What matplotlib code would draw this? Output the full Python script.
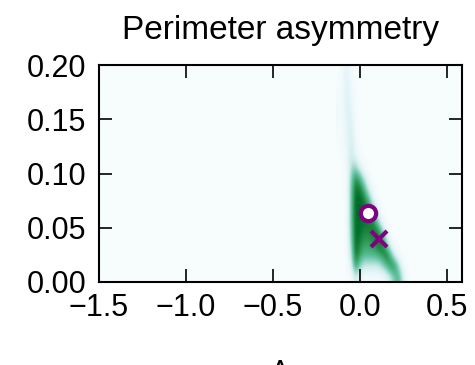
import numpy as np
import matplotlib
matplotlib.use("Agg")
import matplotlib.pyplot as plt

plt.rcParams["font.family"] = ["Liberation Sans", "DejaVu Sans"]

# density grid (rows: y from 0.005 to 0.195, step 0.01;
# columns: x from -0.125 to 0.275, step 0.025)
x_centers = [-0.125, -0.1, -0.075, -0.05, -0.025, 0.0, 0.025, 0.05, 0.075,
             0.1, 0.125, 0.15, 0.175, 0.2, 0.225, 0.25, 0.275]
y_centers = [0.005, 0.015, 0.025, 0.035, 0.045, 0.055, 0.065, 0.075, 0.085, 0.095,
             0.105, 0.115, 0.125, 0.135, 0.145, 0.155, 0.165, 0.175, 0.185, 0.195]
density = [
    [0, 0, 0, 0.3, 2.5, 1.0, 0.3, 0.3, 0.3, 0.3, 0.5, 1.0, 2.5, 5.0, 6.0, 2.0, 0],
    [0, 0, 0, 1.5, 7.5, 4.5, 2.5, 2.5, 2.5, 2.5, 3.5, 5.5, 8.0, 8.0, 3.5, 0.3, 0],
    [0, 0, 0, 3.0, 9.0, 7.0, 6.0, 6.0, 6.0, 6.5, 7.5, 9.0, 6.5, 1.5, 0, 0, 0],
    [0, 0, 0.1, 4.0, 9.5, 8.0, 7.0, 7.0, 7.5, 8.5, 9.0, 5.5, 0.8, 0, 0, 0, 0],
    [0, 0, 0.2, 4.5, 9.5, 9.0, 8.0, 8.0, 8.5, 9.0, 6.5, 1.5, 0, 0, 0, 0, 0],
    [0, 0, 0.2, 5.0, 9.5, 9.0, 9.0, 8.5, 8.5, 5.5, 1.0, 0, 0, 0, 0, 0, 0],
    [0, 0, 0.2, 5.0, 9.5, 9.5, 9.0, 8.5, 5.5, 1.5, 0, 0, 0, 0, 0, 0, 0],
    [0, 0, 0.2, 5.0, 9.5, 9.5, 8.5, 6.5, 2.0, 0.3, 0, 0, 0, 0, 0, 0, 0],
    [0, 0, 0.3, 5.0, 9.0, 8.5, 6.5, 2.5, 0.3, 0, 0, 0, 0, 0, 0, 0, 0],
    [0, 0, 0.3, 4.5, 8.0, 6.5, 3.0, 0.5, 0, 0, 0, 0, 0, 0, 0, 0, 0],
    [0, 0, 0.5, 3.5, 4.5, 1.8, 0.3, 0, 0, 0, 0, 0, 0, 0, 0, 0, 0],
    [0, 0.1, 0.8, 2.8, 1.5, 0.2, 0, 0, 0, 0, 0, 0, 0, 0, 0, 0, 0],
    [0, 0.2, 1.0, 2.5, 0.8, 0, 0, 0, 0, 0, 0, 0, 0, 0, 0, 0, 0],
    [0.2, 0.3, 1.2, 2.2, 0.5, 0, 0, 0, 0, 0, 0, 0, 0, 0, 0, 0, 0],
    [0.4, 0.4, 1.5, 2.0, 0.3, 0, 0, 0, 0, 0, 0, 0, 0, 0, 0, 0, 0],
    [0.5, 0.5, 1.8, 1.6, 0.2, 0, 0, 0, 0, 0, 0, 0, 0, 0, 0, 0, 0],
    [0.4, 0.4, 2.0, 1.2, 0.1, 0, 0, 0, 0, 0, 0, 0, 0, 0, 0, 0, 0],
    [0.2, 0.4, 2.0, 0.8, 0.1, 0, 0, 0, 0, 0, 0, 0, 0, 0, 0, 0, 0],
    [0, 0.5, 1.8, 0.5, 0, 0, 0, 0, 0, 0, 0, 0, 0, 0, 0, 0, 0],
    [0, 0.6, 1.5, 0.3, 0, 0, 0, 0, 0, 0, 0, 0, 0, 0, 0, 0, 0],
]

# reference points
circle_pt = (0.044, 0.064)
cross_pt = (0.11, 0.040)

x_ticks = [-1.5, -1.0, -0.5, 0.0, 0.5]
y_ticks = [0.00, 0.05, 0.10, 0.15, 0.20]

cmap = plt.get_cmap("BuGn")

fig = plt.figure(figsize=(4.75, 3.65), dpi=100)
ax = fig.add_axes([0.2084, 0.2274, 0.7642, 0.5945])
ax.set_facecolor(cmap(0.0))

dx = x_centers[1] - x_centers[0]
dy = y_centers[1] - y_centers[0]
extent = [x_centers[0] - dx / 2, x_centers[-1] + dx / 2,
          y_centers[0] - dy / 2, y_centers[-1] + dy / 2]
ax.imshow(np.array(density), origin="lower", extent=extent, aspect="auto",
          cmap=cmap, vmin=0, vmax=10.5, interpolation="bicubic")

ax.plot(*circle_pt, "o", ms=11, mfc="white", mec="purple", mew=3)
ax.plot(*cross_pt, "x", ms=12, color="purple", mew=3)

ax.set_xlim(-1.5, 0.587)
ax.set_ylim(0, 0.2)
ax.set_xticks(x_ticks)
ax.set_yticks(y_ticks)
ax.set_xticklabels([f"{v:.1f}".replace("-", "\u2212") for v in x_ticks])
ax.set_yticklabels([f"{v:.2f}" for v in y_ticks])
ax.tick_params(direction="in", top=True, right=True, length=9.5, width=1.2,
               labelsize=22)
ax.tick_params(axis="y", pad=9)
ax.tick_params(axis="x", pad=8)
for s in ax.spines.values():
    s.set_linewidth(1.5)

ax.set_title("Perimeter asymmetry", fontsize=24, pad=19)
ax.set_xlabel("\u039b", fontsize=22, labelpad=26)

fig.savefig("out.png", dpi=100)
